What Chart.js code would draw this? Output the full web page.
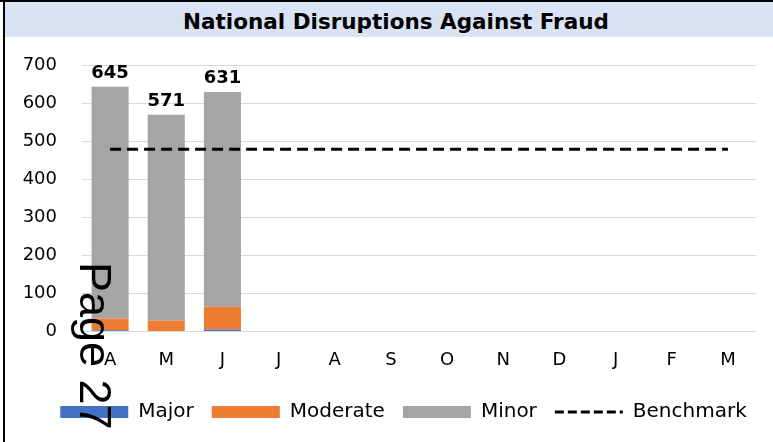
<!DOCTYPE html>
<html>
<head>
<meta charset="utf-8">
<title>National Disruptions Against Fraud</title>
<script src="https://cdn.jsdelivr.net/npm/chart.js@4.4.1/dist/chart.umd.min.js"></script>
<style>
  body { margin: 0; background: #fff; }
  #frame { position: relative; width: 773px; height: 442px; overflow: hidden; background: #fff; }
  #edgeTop { position: absolute; left: 0; top: 0; width: 773px; height: 2px; background: #000; }
  #edgeLeft { position: absolute; left: 3px; top: 0; width: 2px; height: 442px; background: #000; }
  #titleBar {
    position: absolute; left: 5px; top: 2px; width: 768px; height: 35px;
    background: #dae3f3; text-align: center;
    font: bold 21.5px "DejaVu Sans", sans-serif; line-height: 35px; color: #000;
    padding-left: 14px; box-sizing: border-box;
  }
  #titleBar span { position: relative; top: 2px; }
  #chartBox { position: absolute; left: 5px; top: 38px; width: 768px; height: 404px; }
  #pageNo {
    position: absolute; left: 118px; top: 262px;
    font: 45px "Liberation Sans", Arial, sans-serif; line-height: 1; color: #000;
    white-space: nowrap; transform: rotate(90deg); transform-origin: 0 0;
  }
</style>
</head>
<body>
<div id="frame">
  <div id="titleBar"><span>National Disruptions Against Fraud</span></div>
  <div id="chartBox"><canvas id="chart"></canvas></div>
  <div id="edgeTop"></div>
  <div id="edgeLeft"></div>
  <div id="pageNo">Page 27</div>
</div>
<script>
// months of the financial year, April to March
const months = ['A', 'M', 'J', 'J', 'A', 'S', 'O', 'N', 'D', 'J', 'F', 'M'];

// disruptions by severity (only April-June reported so far)
const major = [3, 0, 5];
const moderate = [31, 29, 60];
const minor = [611, 542, 566];

// benchmark level across the year
const benchmark = [480, 480, 480, 480, 480, 480, 480, 480, 480, 480, 480, 480];

// y axis range
const yMin = 0;
const yMax = 700;
const yStep = 100;

const tickFont = { family: '"DejaVu Sans", sans-serif', size: 18 };
const legendFont = { family: '"DejaVu Sans", sans-serif', size: 20 };

// writes the stack total above each bar
const totalsPlugin = {
  id: 'totals',
  afterDatasetsDraw(chart) {
    const ctx = chart.ctx;
    const top = chart.getDatasetMeta(2);
    ctx.save();
    ctx.font = 'bold 18px "DejaVu Sans", sans-serif';
    ctx.fillStyle = '#000';
    ctx.textAlign = 'center';
    ctx.textBaseline = 'alphabetic';
    minor.forEach((v, i) => {
      const total = major[i] + moderate[i] + minor[i];
      const bar = top.data[i];
      ctx.fillText(String(total), bar.x, bar.y - 9);
    });
    ctx.restore();
  }
};

// nudge the legend row a little to the right of centre
const legendShift = {
  id: 'legendShift',
  afterLayout(chart) {
    chart.legend.left += 23;
    chart.legend.right += 23;
  }
};

new Chart(document.getElementById('chart'), {
  type: 'bar',
  data: {
    labels: months,
    datasets: [
      { label: 'Major', data: major, backgroundColor: '#4472c4', borderWidth: 0, pointStyle: 'rect', stack: 'sev' },
      { label: 'Moderate', data: moderate, backgroundColor: '#ed7d31', borderWidth: 0, pointStyle: 'rect', stack: 'sev' },
      { label: 'Minor', data: minor, backgroundColor: '#a5a5a5', borderWidth: 0, pointStyle: 'rect', stack: 'sev' },
      {
        type: 'line', label: 'Benchmark', data: benchmark, stack: 'bench', order: -1,
        borderColor: '#000', backgroundColor: '#000', borderWidth: 3, borderDash: [11, 6],
        pointRadius: 0, pointStyle: 'line', fill: false
      }
    ]
  },
  options: {
    responsive: true,
    maintainAspectRatio: false,
    animation: false,
    datasets: { bar: { categoryPercentage: 1, barPercentage: 0.66 } },
    layout: { padding: { top: 0, right: 17, bottom: 10, left: 0 } },
    plugins: {
      title: { display: false },
      tooltip: { enabled: false },
      legend: {
        position: 'bottom',
        labels: {
          usePointStyle: true,
          pointStyleWidth: 68,
          boxHeight: 12,
          padding: 18,
          color: '#000',
          font: legendFont,
          sort: (a, b) => a.datasetIndex - b.datasetIndex,
          generateLabels(chart) {
            const items = Chart.defaults.plugins.legend.labels.generateLabels(chart);
            items.forEach(item => {
              if (item.text === 'Benchmark') item.lineDash = [9, 4];
            });
            return items;
          }
        }
      }
    },
    scales: {
      x: {
        stacked: true,
        grid: { display: false },
        border: { display: false },
        ticks: { color: '#000', font: tickFont, padding: 10, maxRotation: 0 },
        afterFit(scale) { scale.height += 3; }
      },
      y: {
        stacked: true,
        min: yMin,
        max: yMax,
        grid: { color: '#d9d9d9', lineWidth: 1, drawTicks: true, tickLength: 8, tickColor: 'rgba(0,0,0,0)' },
        border: { display: false },
        ticks: { stepSize: yStep, color: '#000', font: tickFont, padding: 17 },
        afterFit(scale) { scale.width = 77; }
      }
    }
  },
  plugins: [totalsPlugin, legendShift]
});
</script>
</body>
</html>
